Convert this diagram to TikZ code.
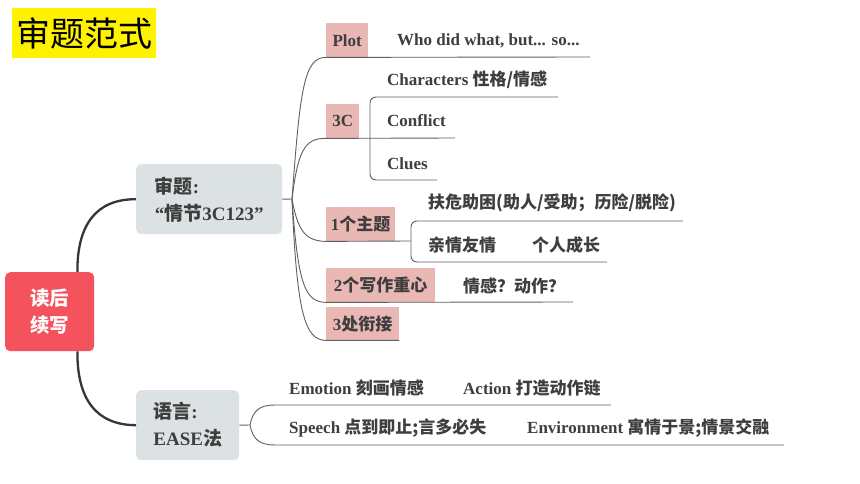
\documentclass[tikz,border=0pt]{standalone}
\usepackage{fontspec}
\setmainfont{Liberation Serif}
\newfontfamily\cjk{Noto Sans CJK SC}
\newcommand\zh[1]{{\cjk #1}}
\definecolor{txtc}{HTML}{3E3E3E}
\definecolor{pinkc}{HTML}{E9B7B4}
\definecolor{grayc}{HTML}{DCE2E3}
\definecolor{redc}{HTML}{F4525C}
\definecolor{trunkc}{HTML}{363636}
\definecolor{twigc}{HTML}{606060}
\begin{document}
\begin{tikzpicture}[x=1pt,y=-1pt,
  txt/.style={inner sep=0pt, anchor=west, text=txtc, font=\fontsize{17}{20}\selectfont\bfseries},
  tag/.style={fill=pinkc, inner sep=0pt, anchor=north west, text=txtc, font=\fontsize{17}{20}\selectfont\bfseries},
  mainbox/.style={fill=grayc, rounded corners=5pt, anchor=north west, inner xsep=16pt, inner ysep=0pt, align=left, text=txtc, font=\fontsize{19}{27}\selectfont\bfseries},
  rootbox/.style={fill=redc, rounded corners=5pt, anchor=north west, inner sep=0pt, align=center, text=white, font=\fontsize{19.5}{27}\selectfont\bfseries\cjk},
  trunk/.style={draw=trunkc, line width=2.3pt},
  twig/.style={draw=twigc, line width=0.9pt},
]
\useasboundingbox (0,0) rectangle (860,484);
\fill[white] (0,0) rectangle (860,484);

% title
\node[fill=yellow, anchor=north west, inner sep=0pt, minimum width=144pt, minimum height=50pt,
      font=\fontsize{34}{40}\selectfont\cjk] (title) at (12,8) {审题范式};

% root and main boxes
\node[rootbox, minimum width=89pt, minimum height=79pt] (root) at (5,272) {读后\\续写};
\node[mainbox, minimum width=146pt, minimum height=70pt] (shenti) at (136,164) {\zh{审题}:\\“\zh{情节}3C123”};
\node[mainbox, minimum width=103pt, minimum height=70pt] (yuyan) at (136,390) {\zh{语言}:\\EASE\zh{法}};

\draw[trunk] ([xshift=-17pt]root.north east) .. controls (77,225) and (96,199) .. (shenti.west);
\draw[trunk] ([xshift=-17pt]root.south east) .. controls (77,399) and (96,425) .. (yuyan.west);

% upper branch tags
\node[tag, minimum width=42pt, minimum height=34pt] (plot) at (326,23) {Plot};
\node[tag, minimum width=33pt, minimum height=34pt] (c3) at (326,104) {3C};
\node[tag, minimum width=69pt, minimum height=34pt] (zhuti) at (326,207) {1\zh{个主题}};
\node[tag, minimum width=109pt, minimum height=34pt] (zhongxin) at (326,268) {2\zh{个写作重心}};
\node[tag, minimum width=73pt, minimum height=33pt] (xianjie) at (326,307) {3\zh{处衔接}};

\coordinate (hub1) at (292,199);
\draw[twig] (shenti.east) -- (hub1);
\coordinate (plotend) at (590,57);
\coordinate (c3end) at (455,138);
\coordinate (zhutihub) at (411,241);
\coordinate (zhongxinend) at (573,302);
\draw[twig] (hub1) .. controls (300,90) and (304,57) .. (plot.south west) -- (plotend);
\draw[twig] (hub1) .. controls (298,150) and (305,138) .. (c3.south west) -- (c3end);
\draw[twig] (hub1) .. controls (298,232) and (306,241) .. (zhuti.south west) -- (zhutihub);
\draw[twig] (hub1) .. controls (298,285) and (305,302) .. (zhongxin.south west) -- (zhongxinend);
\draw[twig] (hub1) .. controls (297,315) and (305,340) .. (xianjie.south west) -- (xianjie.south east);

% texts of upper branch
\node[txt] (who) at (397,41) {Who did what, but... so...};
\node[txt] (chars) at (387,80) {Characters \zh{性格/情感}};
\node[txt] (confl) at (387,121) {Conflict};
\node[txt] (clues) at (387,164) {Clues};
\node[txt] (fuwei) at (428,203) {\zh{扶危助困(助人/受助；历险/脱险)}};
\node[txt] (qinqing) at (428,245) {\zh{亲情友情}\hspace{36pt}\zh{个人成长}};
\node[txt] (qinggan) at (463,286) {\zh{情感？动作？}};

% 3C bracket
\coordinate (c3hub) at (370,138);
\coordinate (charsend) at (558,97);
\coordinate (cluesend) at (437,180);
\draw[twig, rounded corners=6pt] (charsend) -| (c3hub) |- (cluesend);
% 1 theme bracket
\coordinate (fuweiend) at (683,221);
\coordinate (qinend) at (607,262);
\draw[twig, rounded corners=6pt] (fuweiend) -| (zhutihub) |- (qinend);

% lower branch
\coordinate (hub2) at (250,425);
\coordinate (emoend) at (611,405);
\coordinate (envend) at (784,445);
\draw[twig] (yuyan.east) -- (hub2);
\draw[twig] (hub2) .. controls (253,410) and (260,405) .. (275,405) -- (emoend);
\draw[twig] (hub2) .. controls (253,440) and (260,445) .. (275,445) -- (envend);
\node[txt] (emo) at (289,388) {Emotion \zh{刻画情感}};
\node[txt] (act) at (463,388) {Action \zh{打造动作链}};
\node[txt] (spe) at (289,428) {Speech \zh{点到即止;言多必失}};
\node[txt] (env) at (527,428) {Environment \zh{寓情于景;情景交融}};
\end{tikzpicture}
\end{document}
